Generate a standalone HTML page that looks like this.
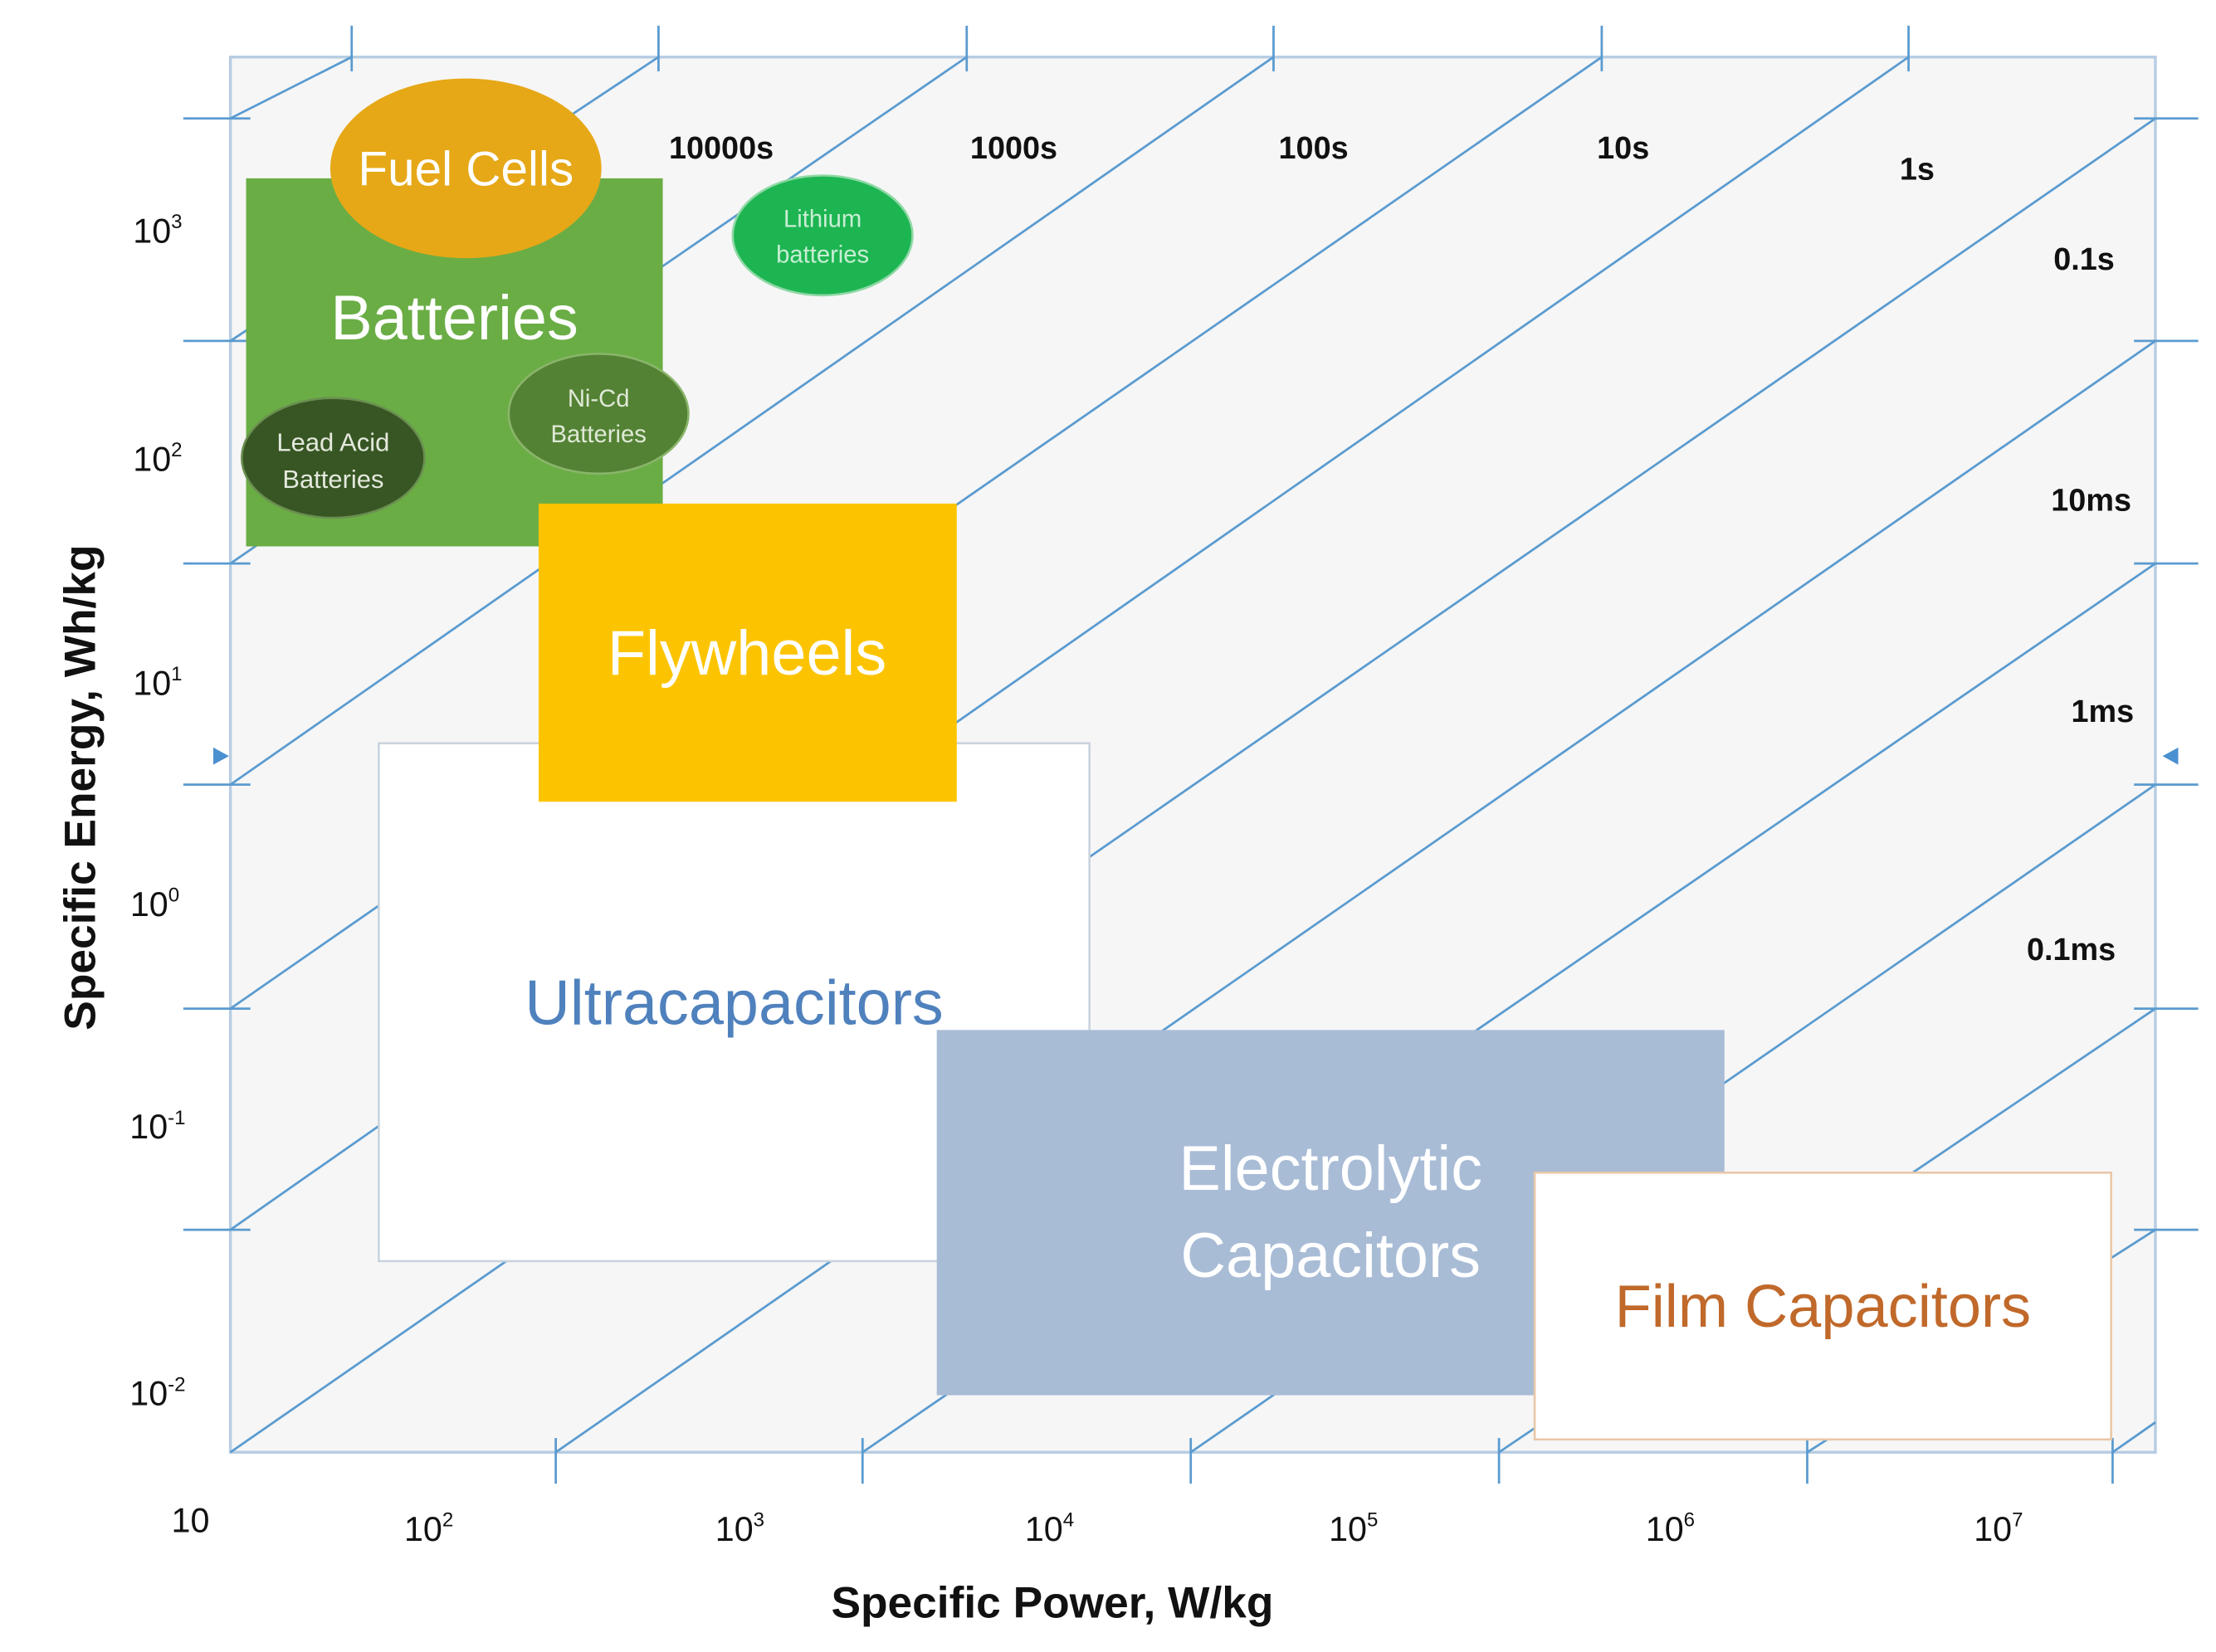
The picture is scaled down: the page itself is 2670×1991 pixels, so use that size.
<!DOCTYPE html>
<html><head><meta charset="utf-8"><style>
html,body{margin:0;padding:0;background:#fff;}
svg{display:block;}
.t{font-family:"Liberation Sans Narrow","Liberation Sans",sans-serif;}
</style></head><body>
<svg width="2670" height="1991" viewBox="0 0 1552 1158" xmlns="http://www.w3.org/2000/svg">
<rect x="0" y="0" width="1552" height="1158" fill="#fff"/>
<rect x="161" y="40" width="1349" height="978" fill="#f6f6f6" stroke="#b7cde3" stroke-width="2"/>
<g stroke="#5a9bd0" stroke-width="1.6" fill="none">
<line x1="161" y1="83" x2="246" y2="40"/>
<line x1="161" y1="239" x2="461" y2="40"/>
<line x1="161" y1="395" x2="677" y2="40"/>
<line x1="161" y1="550" x2="892" y2="40"/>
<line x1="161" y1="707" x2="1122" y2="40"/>
<line x1="161" y1="862" x2="1337" y2="40"/>
<line x1="161" y1="1018" x2="1510" y2="83"/>
<line x1="389" y1="1018" x2="1510" y2="239"/>
<line x1="604" y1="1018" x2="1510" y2="395"/>
<line x1="834" y1="1018" x2="1510" y2="550"/>
<line x1="1050" y1="1018" x2="1510" y2="707"/>
<line x1="1266" y1="1018" x2="1510" y2="862"/>
<line x1="1480" y1="1018" x2="1510" y2="997"/>
<!-- ticks -->
<line x1="246" y1="18" x2="246" y2="50"/><line x1="461" y1="18" x2="461" y2="50"/>
<line x1="677" y1="18" x2="677" y2="50"/><line x1="892" y1="18" x2="892" y2="50"/>
<line x1="1122" y1="18" x2="1122" y2="50"/><line x1="1337" y1="18" x2="1337" y2="50"/>
<line x1="128" y1="83" x2="175" y2="83"/><line x1="128" y1="239" x2="175" y2="239"/>
<line x1="128" y1="395" x2="175" y2="395"/><line x1="128" y1="550" x2="175" y2="550"/>
<line x1="128" y1="707" x2="175" y2="707"/><line x1="128" y1="862" x2="175" y2="862"/>
<line x1="1495" y1="83" x2="1540" y2="83"/><line x1="1495" y1="239" x2="1540" y2="239"/>
<line x1="1495" y1="395" x2="1540" y2="395"/><line x1="1495" y1="550" x2="1540" y2="550"/>
<line x1="1495" y1="707" x2="1540" y2="707"/><line x1="1495" y1="862" x2="1540" y2="862"/>
<line x1="389" y1="1008" x2="389" y2="1040"/><line x1="604" y1="1008" x2="604" y2="1040"/>
<line x1="834" y1="1008" x2="834" y2="1040"/><line x1="1050" y1="1008" x2="1050" y2="1040"/>
<line x1="1266" y1="1008" x2="1266" y2="1040"/><line x1="1480" y1="1008" x2="1480" y2="1040"/>
</g>
<polygon points="149,524 160,530 149,536" fill="#4a90d0"/>
<polygon points="1526,524 1515,530 1526,536" fill="#4a90d0"/>

<!-- shapes -->
<rect x="172" y="125" width="292" height="258" fill="#6aad45"/>
<ellipse cx="326" cy="118" rx="95" ry="63" fill="#e6a817"/>
<ellipse cx="576" cy="165" rx="63" ry="42" fill="#1db552" stroke="#8fd8a5" stroke-width="1.5"/>
<ellipse cx="419" cy="290" rx="63" ry="42" fill="#548235" stroke="#8ab56a" stroke-width="1.5"/>
<ellipse cx="233" cy="321" rx="64" ry="42" fill="#375623" stroke="#6a8f50" stroke-width="1.5"/>
<rect x="265" y="521" width="498" height="363" fill="#fff" stroke="#c9d3dd" stroke-width="1.5"/>
<rect x="377" y="353" width="293" height="209" fill="#fcc400"/>
<rect x="656" y="722" width="552" height="256" fill="#a9bcd6"/>
<rect x="1075" y="822" width="404" height="187" fill="#fff" stroke="#e9c7a8" stroke-width="1.5"/>

<g class="t" text-anchor="middle">
<text x="326" y="130" font-size="34" fill="#fff">Fuel Cells</text>
<text x="318" y="238" font-size="44" fill="#fff">Batteries</text>
<text x="576" y="159" font-size="17" fill="#c8eed3">Lithium</text>
<text x="576" y="184" font-size="17" fill="#c8eed3">batteries</text>
<text x="419" y="285" font-size="17" fill="#dfe9d6">Ni-Cd</text>
<text x="419" y="310" font-size="17" fill="#dfe9d6">Batteries</text>
<text x="233" y="316" font-size="18" fill="#e4e9de">Lead Acid</text>
<text x="233" y="342" font-size="18" fill="#e4e9de">Batteries</text>
<text x="523" y="473" font-size="44" fill="#fff">Flywheels</text>
<text x="514" y="718" font-size="44" fill="#4f81bd">Ultracapacitors</text>
<text x="932" y="834" font-size="44" fill="#fff">Electrolytic</text>
<text x="932" y="895" font-size="44" fill="#fff">Capacitors</text>
<text x="1277" y="930" font-size="42" fill="#c0692a">Film Capacitors</text>

<g font-size="22" font-weight="bold" fill="#111">
<text x="505" y="111">10000s</text>
<text x="710" y="111">1000s</text>
<text x="920" y="111">100s</text>
<text x="1137" y="111">10s</text>
<text x="1343" y="126">1s</text>
<text x="1460" y="189">0.1s</text>
<text x="1465" y="358">10ms</text>
<text x="1473" y="506">1ms</text>
<text x="1451" y="673">0.1ms</text>
</g>
<g font-size="24" fill="#111">
<text x="110" y="170">10<tspan font-size="14" dy="-10">3</tspan></text>
<text x="110" y="330">10<tspan font-size="14" dy="-10">2</tspan></text>
<text x="110" y="487">10<tspan font-size="14" dy="-10">1</tspan></text>
<text x="108" y="642">10<tspan font-size="14" dy="-10">0</tspan></text>
<text x="110" y="798">10<tspan font-size="14" dy="-10">-1</tspan></text>
<text x="110" y="985">10<tspan font-size="14" dy="-10">-2</tspan></text>
<text x="133" y="1074">10</text>
<text x="300" y="1080">10<tspan font-size="14" dy="-10">2</tspan></text>
<text x="518" y="1080">10<tspan font-size="14" dy="-10">3</tspan></text>
<text x="735" y="1080">10<tspan font-size="14" dy="-10">4</tspan></text>
<text x="948" y="1080">10<tspan font-size="14" dy="-10">5</tspan></text>
<text x="1170" y="1080">10<tspan font-size="14" dy="-10">6</tspan></text>
<text x="1400" y="1080">10<tspan font-size="14" dy="-10">7</tspan></text>
</g>
<text x="737" y="1134" font-size="31" font-weight="bold" fill="#111">Specific Power, W/kg</text>
<text transform="translate(66,552) rotate(-90)" font-size="31" font-weight="bold" fill="#111">Specific Energy, Wh/kg</text>
</g>
</svg>
</body></html>
